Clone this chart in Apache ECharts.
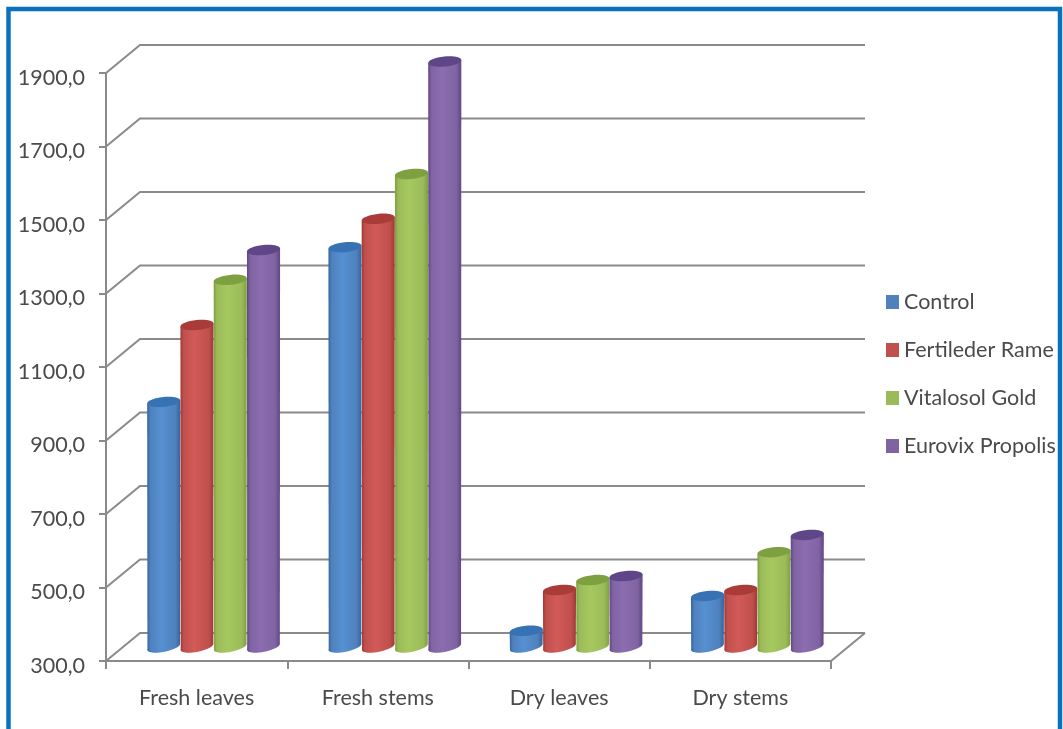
<!DOCTYPE html>
<html>
<head>
<meta charset="utf-8">
<style>html,body{margin:0;padding:0;background:#fff}#chart{width:1063px;height:729px}</style>
<script src="https://cdn.jsdelivr.net/npm/echarts@6/dist/echarts.min.js"></script>
</head>
<body>
<div id="chart"></div>
<script>
const categories = ['Fresh leaves', 'Fresh stems', 'Dry leaves', 'Dry stems'];
const control = [967, 1388, 344, 439];
const fertileder = [1176, 1465, 455, 455];
const vitalosol = [1299, 1587, 482, 558];
const eurovix = [1380, 1893, 493, 605];
const tickValues = [300, 500, 700, 900, 1100, 1300, 1500, 1700, 1900];

const FONT = 'Lato';
const INK = '#4a4a4a';
const RULE = '#8a8a8a';
// Depth of the floor and walls, in pixels
const DEPTH_X = 34, DEPTH_Y = -28;
// Cylinders stand halfway into the floor
const MID_X = 17, MID_Y = -14;
const TOP_TILT = 0.1, TOP_RY = 5;
const BASE_TILT = 0.2, BASE_RY = 4.8;

const palette = [
  { base: '#4F81BD', edge: '#34659f', light: '#5690d2', cap: '#3672b4' },
  { base: '#C0504D', edge: '#9f3936', light: '#d25a58', cap: '#a93c39' },
  { base: '#9BBB59', edge: '#7f9f40', light: '#a6c85f', cap: '#7fa040' },
  { base: '#8064A2', edge: '#5f4684', light: '#8b6db0', cap: '#5f4688' }
];

function cylinder(seriesIndex) {
  return function (params, api) {
    const band = api.size([1, 0])[0];
    const w = band * 0.1835;
    const rx = w / 2;
    const top = api.coord([api.value(0), api.value(1)]);
    const floor = api.coord([api.value(0), 300]);
    const cx = top[0] + MID_X + (seriesIndex - 1.5) * w;
    const yTop = top[1] + MID_Y;
    const yBase = floor[1] + MID_Y;
    const c = palette[seriesIndex];
    const body = {
      type: 'linear', x: 0, y: 0, x2: 1, y2: 0,
      colorStops: [
        { offset: 0, color: c.edge },
        { offset: 0.1, color: c.base },
        { offset: 0.42, color: c.light },
        { offset: 0.85, color: c.base },
        { offset: 1, color: c.edge }
      ]
    };
    return {
      type: 'group',
      children: [
        {
          type: 'ellipse',
          shape: { cx: 0, cy: 0, rx: rx, ry: BASE_RY },
          x: cx, y: yBase, rotation: BASE_TILT,
          style: { fill: body }
        },
        {
          type: 'polygon',
          shape: { points: [
            [cx - rx * Math.cos(TOP_TILT), yTop + rx * Math.sin(TOP_TILT)],
            [cx + rx * Math.cos(TOP_TILT), yTop - rx * Math.sin(TOP_TILT)],
            [cx + rx * Math.cos(BASE_TILT), yBase - rx * Math.sin(BASE_TILT)],
            [cx - rx * Math.cos(BASE_TILT), yBase + rx * Math.sin(BASE_TILT)]
          ] },
          style: { fill: body }
        },
        {
          type: 'ellipse',
          shape: { cx: 0, cy: 0, rx: rx, ry: TOP_RY },
          x: cx, y: yTop, rotation: TOP_TILT,
          style: { fill: c.cap }
        }
      ]
    };
  };
}

// Horizontal rules on the back wall, joined to the front axis by a diagonal
function wallRule(params, api) {
  const p = api.coord([0, api.value(1)]);
  const x0 = params.coordSys.x;
  const x1 = x0 + params.coordSys.width;
  const isFloor = api.value(1) === tickValues[0];
  const children = [{
    type: 'polyline',
    shape: { points: [[x0, p[1]], [x0 + DEPTH_X, p[1] + DEPTH_Y], [x1 + DEPTH_X, p[1] + DEPTH_Y]] },
    style: { stroke: RULE, lineWidth: 2, fill: null }
  }];
  if (isFloor) {
    children.push({
      type: 'line',
      shape: { x1: x1, y1: p[1], x2: x1 + DEPTH_X, y2: p[1] + DEPTH_Y },
      style: { stroke: RULE, lineWidth: 2 }
    });
  }
  return { type: 'group', children: children };
}

const rows = [control, fertileder, vitalosol, eurovix];
const names = ['Control', 'Fertileder Rame', 'Vitalosol Gold', 'Eurovix Propolis'];

const chart = echarts.init(document.getElementById('chart'), null, { renderer: 'canvas' });
chart.setOption({
  backgroundColor: '#fff',
  animation: false,
  textStyle: { fontFamily: FONT },
  graphic: [{
    type: 'rect',
    silent: true,
    z: 100,
    shape: { x: 8.5, y: 9, width: 1051.5, height: 740 },
    style: { fill: null, stroke: '#0a72bd', lineWidth: 4.5 }
  }],
  grid: { left: 106, right: 232, top: 73, bottom: 68, containLabel: false },
  legend: {
    data: names,
    orient: 'vertical',
    left: 881,
    top: 286,
    itemWidth: 13,
    itemHeight: 14,
    itemGap: 26,
    icon: 'rect',
    selectedMode: false,
    textStyle: { fontFamily: FONT, fontSize: 21.5, color: INK }
  },
  xAxis: {
    type: 'category',
    data: categories,
    axisLine: { lineStyle: { color: RULE, width: 2 } },
    axisTick: { show: true, length: 8, lineStyle: { color: RULE, width: 2 } },
    axisLabel: { fontFamily: FONT, fontSize: 21.5, color: INK, margin: 26 }
  },
  yAxis: {
    type: 'value',
    min: 300,
    max: 1900,
    axisLine: { show: true, lineStyle: { color: RULE, width: 2 } },
    axisTick: { show: true, length: 7, customValues: tickValues, lineStyle: { color: RULE, width: 2 } },
    axisLabel: {
      fontFamily: FONT, fontSize: 21.5, color: INK, margin: 21,
      verticalAlign: 'top',
      lineHeight: 10,
      customValues: tickValues,
      formatter: v => v.toFixed(1).replace('.', ',')
    },
    splitLine: { show: false }
  },
  series: [
    {
      type: 'custom',
      name: 'walls',
      z: 1,
      silent: true,
      clip: false,
      renderItem: wallRule,
      encode: { x: 0, y: 1 },
      data: tickValues.map(v => [0, v])
    }
  ].concat(rows.map((row, s) => ({
    type: 'custom',
    name: names[s],
    z: 3 + s,
    clip: false,
    itemStyle: { color: palette[s].base },
    renderItem: cylinder(s),
    encode: { x: 0, y: 1 },
    data: row.map((v, i) => [i, v])
  })))
});
</script>
</body>
</html>
